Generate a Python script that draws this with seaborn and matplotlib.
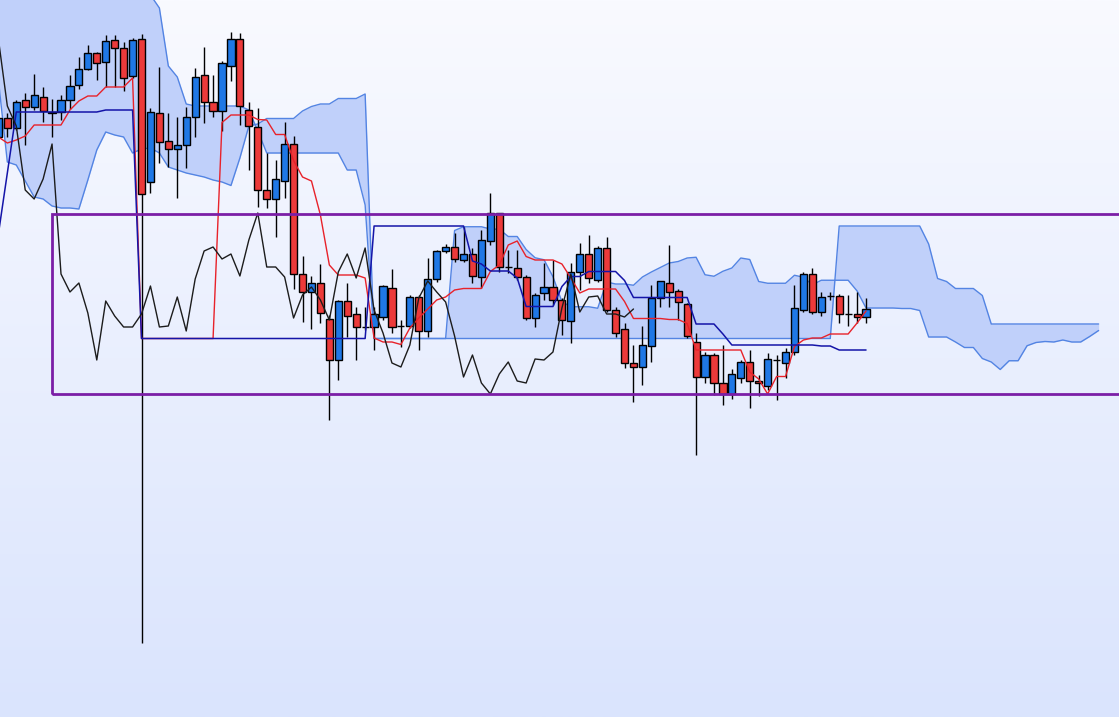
import numpy as np
import pandas as pd
import matplotlib
matplotlib.use("Agg")
import matplotlib.pyplot as plt
from matplotlib.colors import LinearSegmentedColormap
from matplotlib.patches import Rectangle
import seaborn as sns

# price bars (arbitrary price units)
opens = [583, 602, 592, 620, 613, 623, 607, 608, 620, 635,
         651, 667, 658, 680, 672, 644, 681, 538, 607, 579,
         571, 575, 603, 645, 618, 609, 654, 681, 610, 593,
         530, 521, 539, 576, 446, 428, 437, 401, 360, 419,
         406, 393, 393, 403, 432, 394, 394, 423, 389, 441,
         469, 473, 460, 466, 443, 479, 507, 453, 452, 443,
         402, 427, 433, 420, 399, 448, 466, 440, 472, 410,
         391, 357, 353, 374, 422, 437, 429, 416, 378, 343,
         365, 337, 326, 342, 358, 339, 334, 360, 357, 368,
         410, 446, 408, 424, 424, 406, 406, 403]
highs = [607, 607, 620, 627, 646, 633, 621, 625, 645, 663,
         675, 668, 685, 685, 678, 682, 686, 612, 653, 607,
         603, 613, 652, 673, 645, 659, 688, 687, 618, 612,
         567, 560, 598, 584, 464, 444, 456, 405, 420, 437,
         413, 413, 413, 435, 451, 400, 425, 425, 462, 470,
         476, 487, 493, 472, 490, 527, 507, 470, 470, 445,
         427, 457, 460, 422, 457, 477, 485, 474, 483, 413,
         397, 375, 394, 435, 439, 475, 431, 417, 387, 368,
         367, 375, 351, 360, 370, 345, 367, 365, 372, 435,
         448, 452, 428, 428, 426, 425, 428, 422]
lows = [580, 583, 590, 575, 610, 598, 583, 600, 611, 631,
        650, 640, 633, 633, 629, 642, 77, 527, 557, 553,
        522, 552, 583, 597, 603, 589, 639, 595, 550, 513,
        512, 483, 522, 431, 398, 391, 397, 300, 340, 383,
        360, 390, 370, 400, 387, 373, 392, 370, 383, 438,
        467, 458, 458, 437, 432, 475, 448, 447, 440, 400,
        393, 420, 415, 385, 377, 430, 437, 438, 408, 383,
        352, 318, 335, 358, 413, 413, 400, 382, 265, 337,
        325, 315, 321, 337, 312, 324, 330, 320, 342, 365,
        408, 406, 404, 420, 397, 394, 397, 397]
closes = [602, 592, 618, 613, 625, 609, 608, 620, 634, 651,
          667, 657, 679, 672, 642, 680, 526, 608, 578, 571,
          575, 603, 643, 618, 609, 657, 681, 614, 594, 530,
          521, 541, 576, 446, 428, 437, 407, 360, 419, 404,
          393, 393, 406, 434, 393, 394, 423, 389, 441, 469,
          473, 461, 466, 444, 480, 507, 453, 453, 443, 402,
          425, 433, 420, 400, 448, 466, 442, 472, 410, 387,
          357, 353, 375, 422, 439, 428, 418, 384, 343, 365,
          337, 326, 346, 358, 339, 337, 361, 360, 368, 412,
          446, 408, 423, 424, 406, 406, 403, 411]

# ichimoku lines
tenkan = [583, 577, 580, 584, 595, 595, 595, 595, 610, 619,
          624, 624, 633, 633, 633, 642, 381.5, 381.5, 381.5, 381.5,
          381.5, 381.5, 381.5, 381.5, 381.5, 597.5, 605, 605, 605, 600.5,
          600, 585.5, 585.5, 559.5, 543, 539, 505, 455, 445, 445,
          445, 442, 382, 378, 378, 375.5, 392, 402, 411, 420,
          423, 430, 431.5, 431.5, 431.5, 448.5, 455, 475, 479, 463.5,
          460, 460, 460, 456, 442, 427, 431, 431, 431, 431,
          418.5, 401.5, 401.5, 401.5, 401.5, 400.5, 400.5, 396.5, 370, 370,
          370, 370, 370, 370, 348, 341, 326, 343.5, 343.5, 373.5,
          380, 382, 382, 386, 386, 386, 397, 409]
kijun = ([486, 547, 608, 608, 608, 608, 608, 608, 608, 608,
          608, 608, 610, 610, 610, 610] + [381.5] * 26 + [494] * 11 +
         [459, 456, 449, 449, 449, 442, 413.5, 413.5, 413.5, 413.5,
          433.5, 443.5, 443.5, 448.5, 448.5, 448.5, 448.5, 439.5] +
         [422.5] * 7 + [396, 396, 396, 386] + [375] * 10 +
         [374, 374, 370, 370, 370, 370])
span_a = [640, 558, 555, 539, 523, 521, 514, 512, 512, 511,
          540, 570, 588, 585, 583, 567, 571, 572, 567, 553,
          550, 547, 545, 543, 540, 538,
          534.5, 562, 594, 596, 601.5, 601.5, 601.5, 601.5, 609, 613.5,
          616, 616, 621.5, 621.5, 621.5, 626, 381.5, 381.5, 381.5, 381.5,
          381.5, 381.5, 381.5, 381.5, 381.5, 489.5, 493.25, 493.25, 493.25, 491,
          490.75, 483.5, 483.5, 470.5, 462.25, 460.25, 443.25, 418.25, 413.25, 413.25,
          413.25, 411.75, 438, 436, 436, 434.75, 443, 448, 452.5, 457,
          458.5, 462, 462.75, 445.25, 443.75, 448.75, 452, 462, 460.5, 438.5,
          436.75, 436.75, 436.75, 444.75, 442.75, 435.25, 439.75, 439.75, 439.75, 439.75,
          429, 412, 412, 412, 412, 411.5, 411.5, 409.5, 383, 383,
          383, 378, 372.5, 372.5, 361.5, 358, 350.5, 359.25, 359.25, 374.25,
          377.5, 378.5, 378, 380, 378, 378, 383.5, 389.5]
span_b = ([760] * 17 + [725, 712, 654, 643, 616] + [614] * 6 + [610, 589] +
          [567] * 9 + [550, 550, 515] + [381.5] * 52 + [494] * 10 +
          [476, 441.5, 438.5, 431.5, 431.5, 431.5, 424.5] + [396] * 13)

# range box drawn on the chart
box_start = 6.0
box_high = 506
box_low = 326

lag = 26


def main():
    sns.set_theme(style="white")
    plt.rcParams["font.family"] = ["DejaVu Sans"]

    bars = pd.DataFrame({"open": opens, "high": highs, "low": lows, "close": closes})
    bars["idx"] = np.arange(len(bars))

    fig = plt.figure(figsize=(11.19, 7.17), dpi=100)
    ax = fig.add_axes([0, 0, 1, 1])
    x0, x1, y0, y1 = 0.18, 125.28, 3, 720

    # soft vertical gradient background
    bg = LinearSegmentedColormap.from_list("bg", ["#f9faff", "#dae4fd"])
    ax.imshow(np.linspace(0, 1, 256)[:, None], extent=[x0, x1, y0, y1],
              aspect="auto", cmap=bg, origin="upper", zorder=0)

    # cloud
    sx = np.arange(len(span_a))
    ax.fill_between(sx, span_a, span_b, color="#c0d0fa", lw=0, zorder=1)
    sns.lineplot(x=sx, y=span_a, ax=ax, color="#5384e3", lw=1, zorder=2)
    sns.lineplot(x=sx, y=span_b, ax=ax, color="#5384e3", lw=1, zorder=2)

    # candles
    up = bars["close"] >= bars["open"]
    body_lo = bars[["open", "close"]].min(axis=1)
    body_h = (bars["close"] - bars["open"]).abs()
    ax.vlines(bars["idx"], bars["low"], bars["high"], color="black", lw=1, zorder=3)
    ax.bar(bars["idx"], body_h, bottom=body_lo, width=0.8,
           color=np.where(up, "#1f78e6", "#ec3a3a"),
           edgecolor="black", linewidth=1, zorder=4)

    # lines
    sns.lineplot(x=bars["idx"], y=tenkan, ax=ax, color="#e8222a", lw=1, zorder=5)
    sns.lineplot(x=bars["idx"], y=kijun, ax=ax, color="#1414a8", lw=1.1, zorder=5)
    n = len(closes)
    sns.lineplot(x=bars["idx"][:n - lag], y=closes[lag:], ax=ax,
                 color="#1c1c1c", lw=1, zorder=5)

    ax.add_patch(Rectangle((box_start, box_low), 200, box_high - box_low,
                           fill=False, edgecolor="#7b1ea6", lw=2, zorder=6))

    ax.set_xlim(x0, x1)
    ax.set_ylim(y0, y1)
    ax.axis("off")
    fig.savefig("out.png", dpi=100)


if __name__ == "__main__":
    main()
